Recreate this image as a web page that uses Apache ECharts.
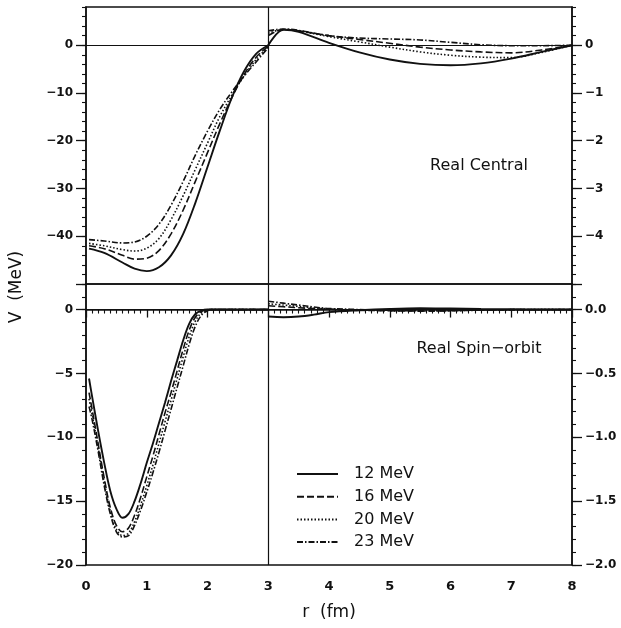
<!DOCTYPE html>
<html>
<head>
<meta charset="utf-8">
<script src="https://cdn.jsdelivr.net/npm/echarts@6/dist/echarts.min.js"></script>
<style>
html, body { margin: 0; padding: 0; background: #fff; }
#chart { width: 621px; height: 628px; }
</style>
</head>
<body>
<div id="chart"></div>
<script>
// legend names
const energies = ['12 MeV', '16 MeV', '20 MeV', '23 MeV'];

// Real central, r < 3 (left axis, MeV)
const rCentralIn = [0.05, 0.3, 0.6, 0.8, 1.0, 1.2, 1.4, 1.6, 1.8, 2.0, 2.2, 2.4, 2.6, 2.8, 3.0];
const central12In = [-42.6, -43.5, -45.5, -46.8, -47.3, -46.5, -44.0, -39.5, -33.0, -25.5, -18.0, -11.0, -5.5, -1.8, 0.0];
const central16In = [-42.0, -42.6, -44.0, -44.8, -44.6, -43.0, -39.5, -34.5, -28.5, -22.5, -16.5, -11.0, -6.2, -2.5, -0.2];
const central20In = [-41.5, -42.0, -42.8, -43.1, -42.5, -40.5, -36.5, -31.5, -26.0, -20.5, -15.0, -10.5, -6.5, -3.0, -0.3];
const central23In = [-40.7, -41.0, -41.4, -41.2, -40.0, -37.5, -33.5, -28.5, -23.0, -18.0, -13.5, -9.8, -6.5, -3.5, -0.5];

// Real central, r > 3 (right axis, MeV)
const rCentralOut = [3.0, 3.25, 3.5, 4.0, 4.5, 5.0, 5.5, 6.0, 6.5, 7.0, 7.5, 8.0];
const central12Out = [0.0, 0.32, 0.28, 0.05, -0.15, -0.30, -0.39, -0.42, -0.38, -0.28, -0.14, 0];
const central16Out = [0.20, 0.33, 0.30, 0.20, 0.12, 0.04, -0.04, -0.10, -0.14, -0.16, -0.10, 0];
const central20Out = [0.25, 0.33, 0.30, 0.18, 0.07, -0.04, -0.14, -0.21, -0.25, -0.26, -0.15, 0];
const central23Out = [0.30, 0.34, 0.31, 0.20, 0.15, 0.13, 0.11, 0.06, 0.01, -0.01, -0.01, 0];

// Real spin-orbit, r < 3 (left axis, MeV)
const rSpinIn = [0.05, 0.1, 0.2, 0.3, 0.4, 0.5, 0.6, 0.7, 0.8, 0.9, 1.0, 1.1, 1.2, 1.3, 1.4, 1.5, 1.6, 1.7, 1.8, 1.9, 2.0, 2.1, 2.5, 3.0];
const spin12In = [-5.4, -6.8, -9.5, -12.0, -14.2, -15.6, -16.3, -16.0, -15.0, -13.6, -12.0, -10.5, -8.9, -7.3, -5.6, -4.0, -2.4, -1.1, -0.35, -0.08, 0, 0, 0, 0];
const spin16In = [-6.5, -7.8, -10.5, -13.2, -15.5, -16.9, -17.4, -17.1, -16.1, -14.7, -13.1, -11.5, -9.8, -8.1, -6.5, -4.8, -3.1, -1.6, -0.6, -0.15, -0.02, 0, 0, 0];
const spin20In = [-7.0, -8.2, -10.8, -13.5, -15.8, -17.2, -17.7, -17.5, -16.6, -15.3, -13.8, -12.2, -10.5, -8.8, -7.1, -5.4, -3.7, -2.1, -0.9, -0.25, -0.05, 0, 0, 0];
const spin23In = [-7.6, -8.6, -11.1, -13.8, -16.0, -17.4, -17.8, -17.7, -16.9, -15.7, -14.3, -12.8, -11.2, -9.5, -7.8, -6.1, -4.4, -2.7, -1.3, -0.45, -0.1, 0, 0, 0];

// Real spin-orbit, r > 3 (right axis, MeV)
const rSpinOut = [3.0, 3.25, 3.5, 3.75, 4.0, 4.5, 5.0, 5.5, 6.0, 6.5, 7.0, 8.0];
const spin12Out = [-0.055, -0.06, -0.055, -0.04, -0.02, -0.005, 0.005, 0.01, 0.008, 0.004, 0.002, 0];
const spin16Out = [0.03, 0.022, 0.014, 0.007, 0.002, -0.005, -0.01, -0.012, -0.008, -0.004, -0.001, 0];
const spin20Out = [0.045, 0.035, 0.024, 0.013, 0.005, -0.003, -0.008, -0.01, -0.008, -0.004, -0.001, 0];
const spin23Out = [0.065, 0.05, 0.035, 0.02, 0.008, 0, -0.006, -0.012, -0.01, -0.005, -0.002, 0];

// tick values
const centralLeftMajor = [-50, -40, -30, -20, -10, 0];
const centralLeftLabels = [-40, -30, -20, -10, 0];
const centralRightMajor = [-5, -4, -3, -2, -1, 0];
const centralRightLabels = [-4, -3, -2, -1, 0];
const spinLeftMajor = [-20, -15, -10, -5, 0];
const spinRightMajor = [-2, -1.5, -1, -0.5, 0];

function steps(from, to, step) {
    const out = [];
    for (let v = from; v <= to + 1e-9; v += step) out.push(Math.round(v * 1000) / 1000);
    return out;
}

const FONT = 'DejaVu Sans';
const INK = '#111';

const lineStyles = [
    { type: 'solid', width: 1.9 },
    { type: [7, 3], width: 1.6 },
    { type: [1.5, 2], width: 1.6 },
    { type: [6, 2, 1.5, 2], width: 1.6 }
];

function minus(s) { return String(s).replace('-', '\u2212'); }

function yMajor(grid, pos, min, max, ticks, labels, fmt) {
    return {
        type: 'value', gridIndex: grid, position: pos, min: min, max: max,
        axisLine: { show: true, lineStyle: { color: INK, width: 1.5 } },
        axisTick: { show: true, length: 10, customValues: ticks, lineStyle: { color: INK, width: 1.3 } },
        axisLabel: {
            show: true, customValues: labels, margin: 13, formatter: fmt,
            color: INK, fontFamily: FONT, fontSize: 12, fontWeight: 'bold'
        },
        splitLine: { show: false }
    };
}

function yMinor(grid, pos, min, max, ticks) {
    return {
        type: 'value', gridIndex: grid, position: pos, min: min, max: max,
        axisLine: { show: false },
        axisTick: { show: true, length: 4, customValues: ticks, lineStyle: { color: INK, width: 1.1 } },
        axisLabel: { show: false },
        splitLine: { show: false }
    };
}

const intFmt = v => minus(v);
const oneFmt = v => minus(v.toFixed(1));

const xAxes = [
    { type: 'value', gridIndex: 0, min: 0, max: 8, show: false },
    {
        type: 'value', gridIndex: 1, min: 0, max: 8, interval: 1,
        axisLine: { show: true, lineStyle: { color: INK, width: 1.5 } },
        axisTick: { show: true, length: 8, lineStyle: { color: INK, width: 1.3 } },
        minorTick: { show: true, splitNumber: 10, length: 4, lineStyle: { color: INK, width: 1.1 } },
        axisLabel: { margin: 15, color: INK, fontFamily: FONT, fontSize: 13, fontWeight: 'bold' },
        splitLine: { show: false }
    }
];

const yAxes = [
    yMajor(0, 'left', -50, 8, centralLeftMajor, centralLeftLabels, intFmt),   // 0
    yMajor(0, 'right', -5, 0.8, centralRightMajor, centralRightLabels, intFmt), // 1
    yMinor(0, 'left', -50, 8, steps(-50, 8, 2)),                               // 2
    yMinor(0, 'right', -5, 0.8, steps(-5, 0.8, 0.2)),                          // 3
    yMajor(1, 'left', -20, 2, spinLeftMajor, spinLeftMajor, intFmt),           // 4
    yMajor(1, 'right', -2, 0.2, spinRightMajor, spinRightMajor, oneFmt),       // 5
    yMinor(1, 'left', -20, 2, steps(-20, 2, 1)),                               // 6
    yMinor(1, 'right', -2, 0.2, steps(-2, 0.2, 0.1))                           // 7
];

function zip(xs, ys) { return xs.map((x, i) => [x, ys[i]]); }

const panels = [
    { x: 0, yIn: 0, yOut: 1, rIn: rCentralIn, rOut: rCentralOut,
      inner: [central12In, central16In, central20In, central23In],
      outer: [central12Out, central16Out, central20Out, central23Out] },
    { x: 1, yIn: 4, yOut: 5, rIn: rSpinIn, rOut: rSpinOut,
      inner: [spin12In, spin16In, spin20In, spin23In],
      outer: [spin12Out, spin16Out, spin20Out, spin23Out] }
];

const guideStyle = { color: INK, width: 1.2, type: 'solid' };
const series = [];
panels.forEach(p => {
    energies.forEach((name, k) => {
        const common = {
            name: name, type: 'line', symbol: 'none', smooth: 0.35,
            xAxisIndex: p.x, lineStyle: Object.assign({ color: INK }, lineStyles[k]),
            itemStyle: { color: INK }, silent: true
        };
        const inner = Object.assign({}, common, { yAxisIndex: p.yIn, data: zip(p.rIn, p.inner[k]) });
        if (k === 0) {
            inner.markLine = {
                silent: true, symbol: ['none', 'none'], label: { show: false },
                lineStyle: guideStyle,
                data: [{ yAxis: 0 }, { xAxis: 3 }]
            };
        }
        series.push(inner);
        series.push(Object.assign({}, common, { yAxisIndex: p.yOut, data: zip(p.rOut, p.outer[k]) }));
    });
});

const chart = echarts.init(document.getElementById('chart'));
chart.setOption({
    animation: false,
    backgroundColor: '#fff',
    textStyle: { fontFamily: FONT },
    grid: [
        { left: 86, top: 7, width: 486, height: 277, show: true, borderColor: INK, borderWidth: 1.5 },
        { left: 86, top: 284, width: 486, height: 281, show: true, borderColor: INK, borderWidth: 1.5 }
    ],
    xAxis: xAxes,
    yAxis: yAxes,
    legend: {
        data: energies, orient: 'vertical', left: 291, top: 461,
        itemWidth: 41, itemHeight: 16, itemGap: 6.7,
        selectedMode: false,
        itemStyle: { opacity: 0 },
        textStyle: { color: INK, fontFamily: FONT, fontSize: 16, lineHeight: 16, padding: [0, 0, 0, 11] }
    },
    graphic: [
        { type: 'text', x: 479, y: 166, silent: true,
          style: { text: 'Real Central', font: '16px "DejaVu Sans"', fill: INK, align: 'center', verticalAlign: 'middle' } },
        { type: 'text', x: 479, y: 349, silent: true,
          style: { text: 'Real Spin\u2212orbit', font: '16px "DejaVu Sans"', fill: INK, align: 'center', verticalAlign: 'middle' } },
        { type: 'text', x: 17, y: 287, rotation: Math.PI / 2, silent: true,
          style: { text: 'V  (MeV)', font: '17px "DejaVu Sans"', fill: INK, align: 'center', verticalAlign: 'middle' } },
        { type: 'text', x: 329, y: 613, silent: true,
          style: { text: 'r  (fm)', font: '17px "DejaVu Sans"', fill: INK, align: 'center', verticalAlign: 'middle' } }
    ],
    series: series
});
</script>
</body>
</html>
